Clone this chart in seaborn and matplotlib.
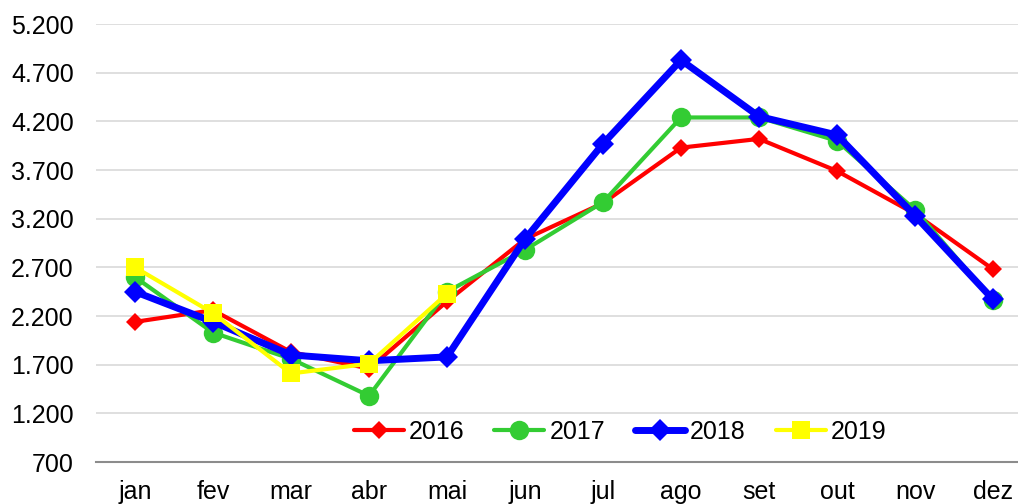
import numpy as np
import pandas as pd
import matplotlib
matplotlib.use("Agg")
import matplotlib.pyplot as plt
import seaborn as sns
from matplotlib.ticker import FuncFormatter

months = ["jan", "fev", "mar", "abr", "mai", "jun", "jul", "ago", "set", "out", "nov", "dez"]
y2016 = [2140, 2260, 1830, 1660, 2350, 2990, 3360, 3930, 4020, 3690, 3250, 2680]
y2017 = [2600, 2030, 1760, 1380, 2450, 2880, 3370, 4240, 4240, 4000, 3290, 2360]
y2018 = [2450, 2140, 1800, 1740, 1780, 2990, 3970, 4830, 4250, 4060, 3230, 2370]
y2019 = [2700, 2230, 1610, 1710, 2430]

sns.set_theme(style="white")
plt.rcParams["font.family"] = ["Liberation Sans", "DejaVu Sans"]

fig = plt.figure(figsize=(10.18, 5.04), dpi=100)
ax = fig.add_axes([0.0943, 0.0833, 0.9195, 0.869])

# style per series: color, marker, line width, marker size
styles = {
    "2016": ("#FF0000", "D", 3.0, 9),
    "2017": ("#33CC33", "o", 3.0, 14),
    "2018": ("#0000FF", "D", 5.0, 11),
    "2019": ("#FFFF00", "s", 3.0, 13),
}
series = {"2016": y2016, "2017": y2017, "2018": y2018, "2019": y2019}

for i, (name, vals) in enumerate(series.items()):
    color, marker, lw, ms = styles[name]
    df = pd.DataFrame({"x": np.arange(len(vals)), "y": vals})
    sns.lineplot(data=df, x="x", y="y", ax=ax, color=color, marker=marker,
                 linewidth=lw, markersize=ms, markeredgewidth=0, label=name,
                 zorder=3 + i)

ax.set_xlim(-0.5, 11.5)
ax.set_ylim(700, 5200)
ax.set_xticks(range(len(months)))
ax.set_xticklabels(months)
ax.set_yticks(np.arange(700, 5201, 500))
ax.yaxis.set_major_formatter(FuncFormatter(lambda v, p: f"{int(v):,}".replace(",", ".")))
ax.set_xlabel("")
ax.set_ylabel("")
ax.tick_params(axis="both", labelsize=18, length=0, colors="#000000")
ax.tick_params(axis="x", pad=13)
ax.tick_params(axis="y", pad=16)

ax.grid(axis="y", color="#D9D9D9", linewidth=1.2)
ax.grid(axis="x", visible=False)
for s in ["left", "right", "top"]:
    ax.spines[s].set_visible(False)
ax.spines["bottom"].set_color("#8C8C8C")
ax.spines["bottom"].set_linewidth(1.5)

leg = ax.legend(loc="center", bbox_to_anchor=(0.56, 0.068), ncol=4, frameon=False,
                fontsize=18, handlelength=2.0, columnspacing=1.2, handletextpad=0.2)
for t in leg.get_texts():
    t.set_color("#000000")

fig.savefig("out.png", dpi=100)
